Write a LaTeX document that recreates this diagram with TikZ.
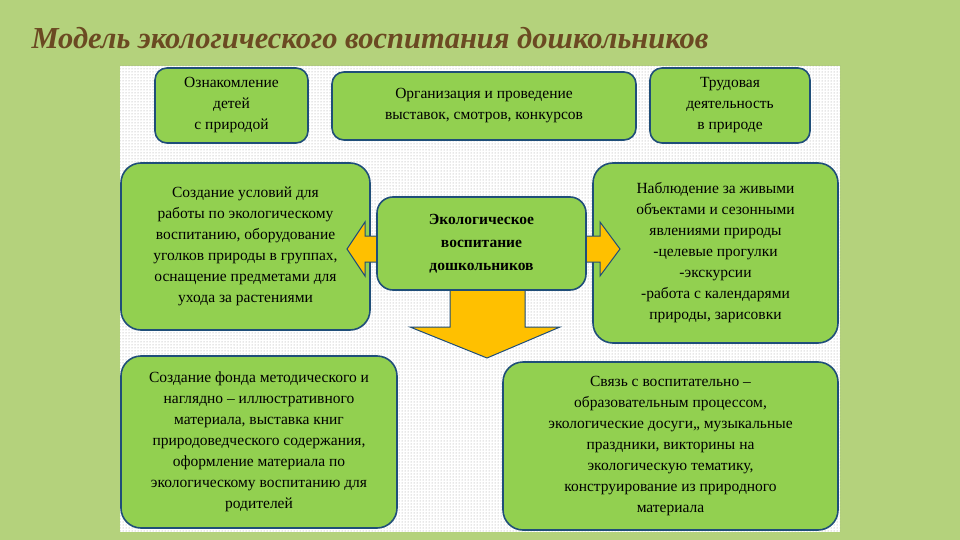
\documentclass[tikz,border=0pt]{standalone}
\usepackage{fontspec}
\setmainfont{Liberation Serif}
\usetikzlibrary{patterns}
\definecolor{bgg}{HTML}{B4D27C}
\definecolor{boxg}{HTML}{92D050}
\definecolor{edge}{HTML}{1F4E79}
\definecolor{arr}{HTML}{FFC000}
\definecolor{ttl}{HTML}{6B4A22}
\tikzset{
 box/.style={draw=edge,line width=1.6pt,fill=boxg,rounded corners=12pt},
 arrow/.style={draw=edge,line width=1pt,fill=arr},
 txt/.style={align=center,font=\fontsize{15.5}{21}\selectfont,text=black},
}
\begin{document}
\begin{tikzpicture}[x=1pt,y=-1pt]
\fill[bgg] (0,0) rectangle (960,540);
\useasboundingbox (0,0) rectangle (960,540);
\fill[white] (120,66) rectangle (840,532);
\fill[pattern=dots,pattern color=gray!80] (120,66) rectangle (840,532);
\node[font=\fontsize{30.5}{32}\selectfont\bfseries\itshape,text=ttl,anchor=west] (title) at (28,38) {Модель экологического воспитания дошкольников};
% boxes
\draw[box] (155,68) rectangle (308,143);
\node[txt] (b1) at (231.5,105.5) {Ознакомление\\детей\\с природой};
\draw[box] (332,72) rectangle (636,140);
\node[txt] (b2) at (484,106) {Организация и проведение\\выставок, смотров, конкурсов};
\draw[box] (650,68) rectangle (810,143);
\node[txt] (b3) at (730,105.5) {Трудовая\\деятельность\\в природе};
\draw[box,rounded corners=20pt] (121,163) rectangle (370,330);
\node[txt] (b4) at (245.5,246.5) {Создание условий для\\работы по экологическому\\воспитанию, оборудование\\уголков природы в группах,\\оснащение предметами для\\ухода за растениями};
\draw[box,rounded corners=20pt] (593,163) rectangle (838,343);
\node[txt] (b6) at (715.5,253) {Наблюдение за живыми\\объектами и сезонными\\явлениями природы\\-целевые прогулки\\-экскурсии\\-работа с календарями\\природы, зарисовки};
\draw[box,rounded corners=20pt] (121,356) rectangle (397,528);
\node[txt] (b7) at (259,442) {Создание фонда методического и\\наглядно – иллюстративного\\материала, выставка книг\\природоведческого содержания,\\оформление материала по\\экологическому воспитанию для\\родителей};
\draw[box,rounded corners=20pt] (503,362) rectangle (838,530);
\node[txt] (b8) at (670.5,446) {Связь с воспитательно –\\образовательным процессом,\\экологические досуги,, музыкальные\\праздники, викторины на\\экологическую тематику,\\конструирование из природного\\материала};
% arrows
\draw[arrow] (380,236) -- (365,236) -- (365,222) -- (347,249) -- (365,276) -- (365,262) -- (380,262) -- cycle;
\draw[arrow] (583,236) -- (600,236) -- (600,222) -- (620,249) -- (600,276) -- (600,262) -- (583,262) -- cycle;
\draw[arrow] (450,287) -- (450,327) -- (410,327) -- (487,358) -- (560,327) -- (525,327) -- (525,287) -- cycle;
\draw[box,rounded corners=16pt] (377,197) rectangle (586,290);
\node[txt,font=\fontsize{15.5}{23}\selectfont\bfseries] (c) at (481.5,243.5) {Экологическое\\воспитание\\дошкольников};
\end{tikzpicture}
\end{document}
